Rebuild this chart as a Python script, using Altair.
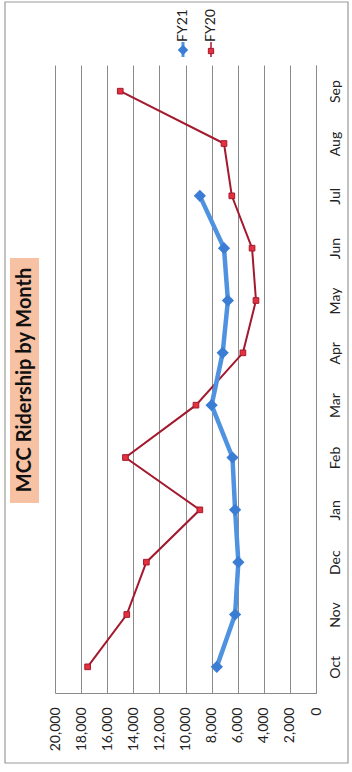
import altair as alt
import pandas as pd

months = ["Oct", "Nov", "Dec", "Jan", "Feb", "Mar", "Apr", "May", "Jun", "Jul", "Aug", "Sep"]
fy20 = [17500, 14500, 13000, 8900, 14600, 9200, 5600, 4600, 4900, 6450, 7050, 15000]
fy21 = [7600, 6200, 5950, 6200, 6400, 8000, 7150, 6750, 7050, 8900]
tick_values = [0, 2000, 4000, 6000, 8000, 10000, 12000, 14000, 16000, 18000, 20000]
title_text = "MCC Ridership by Month"
series_names = ["FY21", "FY20"]

W, H = 261, 628
FONT = "Lato"
BLUE = "#4F93E0"
BLUE_MARK = "#3B7DD4"
RED = "#A3192E"
RED_MARK = "#E5313D"

df20 = pd.DataFrame({"month": months, "value": fy20, "series": "FY20"})
df21 = pd.DataFrame({"month": months[:len(fy21)], "value": fy21, "series": "FY21"})

x_enc = alt.X(
    "value:Q",
    scale=alt.Scale(domain=[0, 20000], reverse=True, nice=False, zero=True),
    axis=alt.Axis(
        values=tick_values, format=",.0f", grid=True, gridColor="#8a8a8a", gridWidth=1,
        ticks=False, domain=True, domainColor="#8a8a8a", labelAngle=270,
        labelAlign="right", labelBaseline="middle", labelPadding=14,
        labelFont=FONT, labelFontSize=14, labelColor="#222222", title=None,
    ),
)
y_enc = alt.Y(
    "month:N",
    sort=months[::-1],
    scale=alt.Scale(domain=months[::-1]),
    axis=alt.Axis(
        orient="right", ticks=False, grid=False, domain=True, domainColor="#8a8a8a",
        labelAngle=270, labelAlign="center", labelBaseline="top", labelPadding=12,
        labelFont=FONT, labelFontSize=14, labelColor="#222222", title=None,
    ),
)

line20 = alt.Chart(df20).mark_line(color=RED, strokeWidth=2).encode(x=x_enc, y=y_enc)
pts20 = alt.Chart(df20).mark_point(
    shape="square", filled=True, size=32, color=RED_MARK, stroke=RED, strokeWidth=1, opacity=1
).encode(x=x_enc, y=y_enc)
line21 = alt.Chart(df21).mark_line(color=BLUE, strokeWidth=4.5).encode(x=x_enc, y=y_enc)
pts21 = alt.Chart(df21).mark_point(
    shape="diamond", filled=True, size=150, color=BLUE_MARK, opacity=1
).encode(x=x_enc, y=y_enc)

one = alt.Data(values=[{"a": 1}])

border = alt.Chart(one).mark_rect(fill=None, stroke="#9a9a9a", strokeWidth=1.2).encode(
    x=alt.value(-50), x2=alt.value(293), y=alt.value(-63), y2=alt.value(698)
)
title_bg = alt.Chart(one).mark_rect(fill="#F7C2A4", stroke=None).encode(
    x=alt.value(-45), x2=alt.value(-16), y=alt.value(193), y2=alt.value(438)
)
title = alt.Chart(one).mark_text(
    text=title_text, angle=270, align="center", baseline="middle",
    font=FONT, fontSize=20, fontWeight="bold", color="#111111"
).encode(x=alt.value(-30), y=alt.value(315))

# legend
leg_line21 = alt.Chart(one).mark_rule(color=BLUE, strokeWidth=3).encode(
    x=alt.value(128), y=alt.value(-23), y2=alt.value(-8)
)
leg_pt21 = alt.Chart(one).mark_point(shape="diamond", filled=True, size=110, color=BLUE_MARK, opacity=1).encode(
    x=alt.value(128), y=alt.value(-15)
)
leg_line20 = alt.Chart(one).mark_rule(color=RED, strokeWidth=1.5).encode(
    x=alt.value(156), y=alt.value(-23), y2=alt.value(-8)
)
leg_pt20 = alt.Chart(one).mark_point(shape="square", filled=True, size=28, color=RED_MARK, stroke=RED, strokeWidth=1, opacity=1).encode(
    x=alt.value(156), y=alt.value(-14)
)
leg_txt21 = alt.Chart(one).mark_text(
    text=series_names[0], angle=270, align="left", baseline="middle",
    font=FONT, fontSize=14, color="#222222"
).encode(x=alt.value(128), y=alt.value(-23))
leg_txt20 = alt.Chart(one).mark_text(
    text=series_names[1], angle=270, align="left", baseline="middle",
    font=FONT, fontSize=14, color="#222222"
).encode(x=alt.value(156), y=alt.value(-23))

chart = alt.layer(
    border, title_bg, title,
    line20, pts20, line21, pts21,
    leg_line21, leg_pt21, leg_line20, leg_pt20, leg_txt21, leg_txt20,
).properties(
    width=W, height=H,
    autosize=alt.AutoSizeParams(type="none"),
    padding={"left": 55, "top": 65, "right": 36, "bottom": 79},
    background="white",
).configure_view(stroke=None)

chart.save("out.html", embed_options={"renderer": "svg", "actions": False})
